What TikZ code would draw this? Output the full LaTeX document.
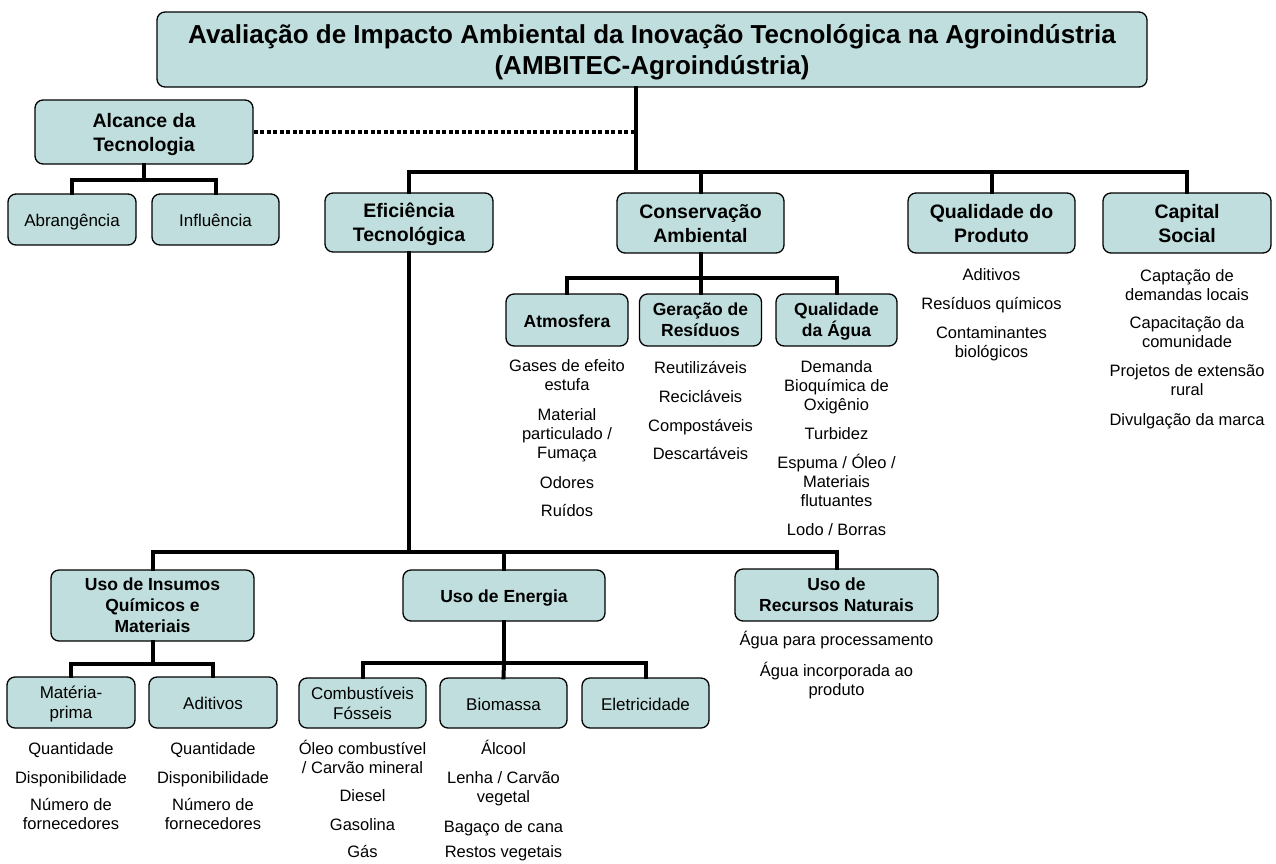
\documentclass[tikz,border=0pt]{standalone}
\usepackage{fontspec}
\setmainfont{Liberation Sans}
\usepackage{tikz}
\definecolor{boxfill}{RGB}{191,222,221}
\tikzset{
  struts/.style={execute at begin node=\strut, execute at end node=\strut},
  orgbox/.style={draw, fill=boxfill, rounded corners=8, line width=1.3, align=center, inner sep=0pt, struts},
  bighead/.style={orgbox, text depth=-1.8pt, font=\fontsize{19.5}{24}\selectfont\bfseries},
  smallhead/.style={orgbox, text depth=0.3pt, font=\fontsize{17.5}{21}\selectfont\bfseries},
  plainbox/.style={orgbox, text depth=0pt, font=\fontsize{17}{20}\selectfont},
  leaf/.style={align=center, inner sep=0pt, text depth=0.7pt, font=\fontsize{16.5}{19}\selectfont, struts},
  link/.style={line width=4, line cap=rect},
  dotlink/.style={line width=4, dash pattern=on 4pt off 2.5pt}
}
\begin{document}
\begin{tikzpicture}[x=1pt,y=1pt,yscale=-1,xscale=1]
    \useasboundingbox (0,0) rectangle (1276,863);

    % Boxes
    \node [orgbox, text depth=-2.7pt, minimum width=990, minimum height=75, font=\fontsize{26}{31}\selectfont\bfseries] (title) at (652,49.5) {Avaliação de Impacto Ambiental da Inovação Tecnológica na Agroindústria\\(AMBITEC-Agroindústria)};
    \node [bighead, minimum width=218, minimum height=64] (alc) at (144,132) {Alcance da\\Tecnologia};
    \node [plainbox, minimum width=128, minimum height=51] (abr) at (72,219.5) {Abrangência};
    \node [plainbox, minimum width=127, minimum height=51] (inf) at (215.5,219.5) {Influência};
    \node [bighead, minimum width=168, minimum height=59] (efi) at (409,222.5) {Eficiência\\Tecnológica};
    \node [bighead, minimum width=167, minimum height=60] (con) at (700.5,223) {Conservação\\Ambiental};
    \node [bighead, minimum width=167, minimum height=60] (qpr) at (991.5,223) {Qualidade do\\Produto};
    \node [bighead, minimum width=168, minimum height=60] (cap) at (1187,223) {Capital\\Social};
    \node [smallhead, minimum width=122, minimum height=52] (atm) at (567,320) {Atmosfera};
    \node [smallhead, minimum width=122, minimum height=52] (ger) at (700.5,320) {Geração de\\Resíduos};
    \node [smallhead, minimum width=121, minimum height=52] (qag) at (836.5,320) {Qualidade\\da Água};
    \node [smallhead, minimum width=203, minimum height=71] (ins) at (152.5,605.5) {Uso de Insumos\\Químicos e\\Materiais};
    \node [smallhead, minimum width=202, minimum height=51] (ene) at (504,595.5) {Uso de Energia};
    \node [smallhead, minimum width=203, minimum height=52] (rec) at (836.5,595) {Uso de\\Recursos Naturais};
    \node [plainbox, minimum width=128, minimum height=51] (mat) at (71,702.5) {Matéria-\\prima};
    \node [plainbox, minimum width=128, minimum height=51] (adi) at (213,702.5) {Aditivos};
    \node [plainbox, minimum width=127, minimum height=50] (com) at (362.5,703) {Combustíveis\\Fósseis};
    \node [plainbox, minimum width=127, minimum height=50] (bio) at (503.5,703) {Biomassa};
    \node [plainbox, minimum width=127, minimum height=50] (ele) at (645.5,703) {Eletricidade};

    % Bus points
    \coordinate (hub) at (636,172);
    \coordinate (busA) at (144,180);
    \coordinate (busC) at (700.5,278);
    \coordinate (busE) at (409,552);
    \coordinate (busI) at (152.5,664);
    \coordinate (busN) at (504,663);

    %Straight Lines
    \draw [link] (title.south -| hub) -- (hub);
    \draw [link] (efi.north) |- (hub) -| (cap.north);
    \draw [link] (con.north) -- (con.north |- hub);
    \draw [link] (qpr.north) -- (qpr.north |- hub);
    \draw [dotlink] (alc.east) -- (alc.east -| hub);
    \draw [link] (alc.south) -- (busA);
    \draw [link] (abr.north) |- (busA) -| (inf.north);
    \draw [link] (con.south) -- (busC);
    \draw [link] (atm.north) |- (busC) -| (qag.north);
    \draw [link] (ger.north) -- (busC);
    \draw [link] (efi.south) -- (busE);
    \draw [link] (ins.north) |- (busE) -| (rec.north);
    \draw [link] (ene.north) -- (ene.north |- busE);
    \draw [link] (ins.south) -- (busI);
    \draw [link] (mat.north) |- (busI) -| (adi.north);
    \draw [link] (ene.south) -- (busN);
    \draw [link] (com.north) |- (busN) -| (ele.north);
    \draw [link] (bio.north) -- (busN);

    % Text Node
    \node [leaf] (atm1) at (567,375.5) {Gases de efeito\\estufa};
    \node [leaf] (atm2) at (567,434) {Material\\particulado /\\Fumaça};
    \node [leaf] (atm3) at (567,482) {Odores};
    \node [leaf] (atm4) at (567,510) {Ruídos};
    % Text Node
    \node [leaf] (ger1) at (700.5,367) {Reutilizáveis};
    \node [leaf] (ger2) at (700.5,396) {Recicláveis};
    \node [leaf] (ger3) at (700.5,425) {Compostáveis};
    \node [leaf] (ger4) at (700.5,453) {Descartáveis};
    % Text Node
    \node [leaf] (qag1) at (836.5,386) {Demanda\\Bioquímica de\\Oxigênio};
    \node [leaf] (qag2) at (836.5,433) {Turbidez};
    \node [leaf] (qag3) at (836.5,481) {Espuma / Óleo /\\Materiais\\flutuantes};
    \node [leaf] (qag4) at (836.5,529) {Lodo / Borras};
    % Text Node
    \node [leaf] (qpr1) at (991.5,274) {Aditivos};
    \node [leaf] (qpr2) at (991.5,303) {Resíduos químicos};
    \node [leaf] (qpr3) at (991.5,342) {Contaminantes\\biológicos};
    % Text Node
    \node [leaf] (cap1) at (1187,285) {Captação de\\demandas locais};
    \node [leaf] (cap2) at (1187,332) {Capacitação da\\comunidade};
    \node [leaf] (cap3) at (1187,380) {Projetos de extensão\\rural};
    \node [leaf] (cap4) at (1187,419) {Divulgação da marca};
    % Text Node
    \node [leaf] (rec1) at (836.5,639) {Água para processamento};
    \node [leaf] (rec2) at (836.5,679.5) {Água incorporada ao\\produto};
    % Text Node
    \node [leaf] (mat1) at (71,748) {Quantidade};
    \node [leaf] (mat2) at (71,777) {Disponibilidade};
    \node [leaf] (mat3) at (71,814.5) {Número de\\fornecedores};
    \node [leaf] (adi1) at (213,748) {Quantidade};
    \node [leaf] (adi2) at (213,777) {Disponibilidade};
    \node [leaf] (adi3) at (213,814.5) {Número de\\fornecedores};
    % Text Node
    \node [leaf] (com1) at (362.5,757) {Óleo combustível\\/ Carvão mineral};
    \node [leaf] (com2) at (362.5,795) {Diesel};
    \node [leaf] (com3) at (362.5,824) {Gasolina};
    \node [leaf] (com4) at (362.5,851) {Gás};
    \node [leaf] (bio1) at (503.5,748) {Álcool};
    \node [leaf] (bio2) at (503.5,787) {Lenha / Carvão\\vegetal};
    \node [leaf] (bio3) at (503.5,826) {Bagaço de cana};
    \node [leaf] (bio4) at (503.5,851) {Restos vegetais};
\end{tikzpicture}
\end{document}
